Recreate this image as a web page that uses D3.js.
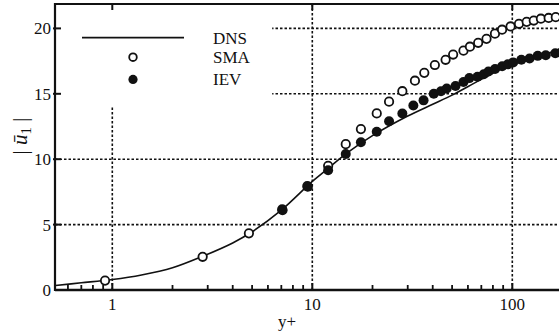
<!DOCTYPE html>
<html>
<head>
<meta charset="utf-8">
<script src="https://cdn.jsdelivr.net/npm/d3@7"></script>
<style>
  html, body { margin: 0; padding: 0; background: #fff; }
  svg { display: block; }
  text { font-family: "Liberation Serif", "Times New Roman", serif; fill: #111; }
</style>
</head>
<body>
<svg id="chart" width="559" height="335"></svg>
<script>
// ---- data ----
const dnsYp = [0.52, 0.7, 1, 1.4, 2, 2.8, 4, 5, 7, 10, 12, 15, 20, 30, 40, 50, 70, 100, 130, 175];
const dnsU  = [0.35, 0.55, 0.8, 1.15, 1.7, 2.55, 3.6, 4.45, 6.1, 8.3, 9.3, 10.5, 11.8, 13.3, 14.2, 14.9, 16.1, 17.3, 17.9, 18.3];

const smaYp = [0.92, 2.83, 4.82, 7.07, 9.44, 12.0, 14.7, 17.5, 21, 24.2, 28.2, 32.6, 36.3, 41, 46.4, 50.6, 57, 61.4, 67.5, 74.3, 81.9, 88.9, 98, 108, 118, 128, 139, 152, 165];
const smaU  = [0.72, 2.54, 4.33, 6.16, 7.94, 9.5, 11.15, 12.3, 13.5, 14.4, 15.2, 16.0, 16.6, 17.2, 17.6, 18.0, 18.3, 18.6, 18.9, 19.2, 19.6, 19.9, 20.15, 20.35, 20.5, 20.6, 20.74, 20.8, 20.86];

const ievYp = [7.1, 9.5, 12, 14.7, 17.5, 21, 24.2, 28.2, 32, 36, 40.5, 44, 47, 52, 57, 61, 67, 72, 76, 82, 89, 95, 101, 111, 122, 134, 147, 164, 175];
const ievU  = [6.1, 7.9, 9.16, 10.4, 11.3, 12.1, 12.9, 13.5, 14.1, 14.5, 15.0, 15.2, 15.4, 15.6, 15.9, 16.2, 16.3, 16.5, 16.7, 16.9, 17.1, 17.25, 17.4, 17.6, 17.7, 17.9, 17.95, 18.1, 18.15];

const xMajor = [1, 10, 100];
const xMinor = [0.6, 0.7, 0.8, 0.9, 2, 3, 4, 5, 6, 7, 8, 9, 20, 30, 40, 50, 60, 70, 80, 90];
const yTicks = [0, 5, 10, 15, 20];
const yGrid = [5, 10, 15, 20];
const legendNames = ["DNS", "SMA", "IEV"];
// the legend hides the grid left of this y+ and above this u
const legendCorner = { yp: 6.3, u: 14 };

// ---- scales ----
const margin = { top: 4, left: 55, bottom: 290 };
const x = d3.scaleLog().domain([1, 100]).range([112.3, 512.3]);
const xLeft = x.invert(margin.left);
const xRight = x.invert(562);
const y = d3.scaleLinear().domain([0, 20]).range([margin.bottom, 28.4]);
const yTop = y.invert(margin.top);

const $svg = d3.select("#chart");
const $grid = $svg.append("g").attr("id", "grid");
const $view = $svg.append("g").attr("id", "view");
const $axes = $svg.append("g").attr("id", "axes");
const $legend = $svg.append("g").attr("id", "legend");

// grid lines (dotted)
const gridStyle = s => s.attr("stroke", "#111").attr("stroke-width", 1.6).attr("stroke-dasharray", "2.5,2");
$grid.selectAll("line.v").data(xMajor).join("line")
    .attr("class", "v")
    .attr("x1", d => x(d)).attr("x2", d => x(d))
    .attr("y1", y(0)).attr("y2", y(yTop))
    .call(gridStyle);
$grid.selectAll("line.h").data(yGrid).join("line")
    .attr("class", "h")
    .attr("x1", x(xLeft)).attr("x2", x(xRight))
    .attr("y1", d => y(d)).attr("y2", d => y(d))
    .call(gridStyle);
// white block behind the legend
$grid.append("rect")
    .attr("x", x(xLeft)).attr("y", y(yTop))
    .attr("width", x(legendCorner.yp) - x(xLeft))
    .attr("height", y(legendCorner.u) - y(yTop))
    .attr("fill", "#fff");

// DNS line
const dns = dnsYp.map((d, i) => ({ x: d, y: dnsU[i] }));
const line = d3.line().x(d => x(d.x)).y(d => y(d.y)).curve(d3.curveCatmullRom);
$view.append("path").datum(dns)
    .attr("d", line)
    .attr("fill", "none").attr("stroke", "#111").attr("stroke-width", 1.6);

// SMA: open circles
$view.append("g").selectAll("circle")
    .data(smaYp.map((d, i) => ({ x: d, y: smaU[i] })))
    .join("circle")
    .attr("cx", d => x(d.x)).attr("cy", d => y(d.y)).attr("r", 4.2)
    .attr("fill", "#fff").attr("stroke", "#111").attr("stroke-width", 1.8);

// IEV: filled circles
$view.append("g").selectAll("circle")
    .data(ievYp.map((d, i) => ({ x: d, y: ievU[i] })))
    .join("circle")
    .attr("cx", d => x(d.x)).attr("cy", d => y(d.y)).attr("r", 5)
    .attr("fill", "#111");

// axes frame
const axisLine = (s, w) => s.attr("stroke", "#111").attr("stroke-width", w);
$axes.append("line")
    .attr("x1", x(xLeft)).attr("x2", x(xRight)).attr("y1", y(0)).attr("y2", y(0))
    .call(axisLine, 2.6);
$axes.append("line")
    .attr("x1", x(xLeft)).attr("x2", x(xRight)).attr("y1", y(yTop)).attr("y2", y(yTop))
    .call(axisLine, 2.2);
$axes.append("line")
    .attr("x1", x(xLeft)).attr("x2", x(xLeft)).attr("y1", y(0) + 1).attr("y2", y(yTop) - 1)
    .call(axisLine, 2.2);

// bottom ticks (inward)
$axes.selectAll("line.minor").data(xMinor).join("line")
    .attr("class", "minor")
    .attr("x1", d => x(d)).attr("x2", d => x(d))
    .attr("y1", y(0)).attr("y2", y(0) - 5)
    .call(axisLine, 1.8);
$axes.selectAll("line.major").data(xMajor).join("line")
    .attr("class", "major")
    .attr("x1", d => x(d)).attr("x2", d => x(d))
    .attr("y1", y(0)).attr("y2", y(0) - 7)
    .call(axisLine, 2);
$axes.selectAll("line.top").data(xMajor).join("line")
    .attr("class", "top")
    .attr("x1", d => x(d)).attr("x2", d => x(d))
    .attr("y1", y(yTop)).attr("y2", y(yTop) + 6)
    .call(axisLine, 2);
$axes.selectAll("line.ytick").data(yTicks.slice(1)).join("line")
    .attr("class", "ytick")
    .attr("x1", x(xLeft) - 2).attr("x2", x(xLeft) + 6)
    .attr("y1", d => y(d)).attr("y2", d => y(d))
    .call(axisLine, 2);

// tick labels
$axes.selectAll("text.xl").data(xMajor).join("text")
    .attr("class", "xl")
    .attr("x", d => x(d)).attr("y", 310)
    .attr("text-anchor", "middle").attr("font-size", 17)
    .text(d => d);
$axes.selectAll("text.yl").data(yTicks).join("text")
    .attr("class", "yl")
    .attr("x", x(xLeft) - 4).attr("y", d => y(d))
    .attr("dy", "0.35em")
    .attr("text-anchor", "end").attr("font-size", 17)
    .text(d => d);

// axis titles
$axes.append("text")
    .attr("x", 287).attr("y", 327)
    .attr("text-anchor", "middle").attr("font-size", 17)
    .text("y+");
const yTitle = $axes.append("text")
    .attr("transform", "translate(27,136) rotate(-90)")
    .attr("text-anchor", "middle").attr("font-size", 21);
yTitle.append("tspan").text("| ");
yTitle.append("tspan").attr("font-style", "italic").text("\u016B");
yTitle.append("tspan").attr("font-size", 15).attr("dy", 4).text("1");
yTitle.append("tspan").attr("dy", -4).text(" |");

// legend
const legendRows = [
  { name: legendNames[0], u: 19.3 },
  { name: legendNames[1], u: 17.8 },
  { name: legendNames[2], u: 16.1 },
];
$legend.append("line")
    .attr("x1", 82).attr("x2", 184)
    .attr("y1", y(legendRows[0].u)).attr("y2", y(legendRows[0].u))
    .attr("stroke", "#111").attr("stroke-width", 1.8);
$legend.append("circle")
    .attr("cx", 133).attr("cy", y(legendRows[1].u)).attr("r", 3.8)
    .attr("fill", "#fff").attr("stroke", "#111").attr("stroke-width", 1.8);
$legend.append("circle")
    .attr("cx", 133).attr("cy", y(legendRows[2].u)).attr("r", 4.6)
    .attr("fill", "#111");
$legend.selectAll("text").data(legendRows).join("text")
    .attr("x", 213).attr("y", d => y(d.u))
    .attr("dy", "0.35em").attr("font-size", 17)
    .text(d => d.name);
</script>
</body>
</html>
